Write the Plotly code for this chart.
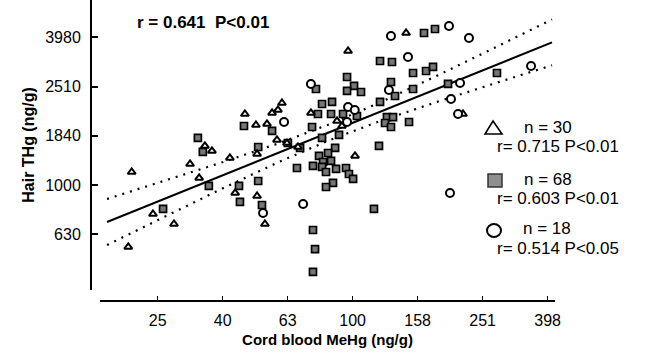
import plotly.graph_objects as go

# ---------------- data ----------------
tri_x = [46.6, 50.4, 54.5, 56.5, 58.9, 60.6, 36.9, 20.9, 31.6, 41.9, 50.8, 33.7, 43.5, 50.8, 53.7,
         24.3, 28.2, 20.4, 58.5, 62.8, 96.8, 146, 74.4, 89.5, 92.7, 218.6, 101.7, 35.1, 67.9]
tri_y = [1943, 1753, 1770, 1962, 2018, 2154, 1375, 1129, 1217, 1288, 1337, 1068, 928, 902, 694,
         762, 694, 560, 1524, 1481, 3505, 4148, 1962, 1820, 1737, 1943, 1312, 1441, 1427]

sq_x = [46.3, 56.5, 33.4, 34.6, 51.2, 67.4, 36.1, 44.7, 45.0, 51.2, 52.6, 26.1, 165.8, 179.2, 121.4,
        132.1, 153.4, 168.2, 176.7, 96.1, 131.2, 77.1, 101, 96.1, 106.1, 135, 153.4, 196.5, 80.5,
        86.4, 121.4, 78.2, 85.8, 93.4, 103.1, 127.5, 133.1, 125.8, 149.1, 131.2, 75, 80.5, 90.8,
        120.5, 88.3, 63.2, 68.9, 78.8, 84.0, 81.1, 75.5, 80.5, 85.8, 82.8, 88.9, 95.4, 97.4, 100.3,
        87.0, 82.8, 116.3, 75.5, 278, 75.5, 76.6]
sq_y = [1737, 1658, 1553, 1362, 1427, 1172, 991, 991, 853, 1038, 829, 799, 4148, 4306, 3192,
        3162, 2853, 2907, 3018, 2748, 2622, 2456, 2527, 2411, 2388, 2300, 2456, 2574, 2134,
        2175, 2175, 1943, 1943, 1943, 1907, 1889, 1889, 1786, 1803, 1721, 1721, 1553, 1597,
        1441, 1414, 1481, 1414, 1312, 1349, 1240, 1195, 1184, 1252, 1129, 1162, 1172, 1108, 1058,
        1019, 981, 799, 443, 2853, 656, 549]

cir_x = [61.5, 53.0, 131.2, 197.9, 228, 148, 74.4, 129.3, 214, 200.7, 96.8, 96.1, 211, 353.9,
         70.4, 199.3, 101.5]
cir_y = [1803, 769, 4033, 4429, 3959, 3314, 2574, 2433, 2598, 2237, 2075, 1803, 1943, 3046,
         837, 928, 2018]

fit_x = [17.55, 410.6]
fit_y = [707, 3799]
band_x = [17.55, 25.54, 39.06, 59.77, 85.20, 121.4, 185.7, 284.0, 410.6]
upper_y = [877, 1026, 1228, 1483, 1770, 2164, 2818, 3704, 4708]
lower_y = [570, 728, 957, 1246, 1524, 1819, 2197, 2630, 3066]

x_tick_vals = [25.12, 39.81, 63.10, 100.0, 158.5, 251.2, 398.1]
x_tick_text = ["25", "40", "63", "100", "158", "251", "398"]
y_tick_vals = [631, 1000, 1585, 2512, 3981]
y_tick_text = ["630", "1000", "1840", "2510", "3980"]

legend_n = ["n = 30", "n = 68", "n = 18"]
legend_r = ["r= 0.715 P<0.01", "r= 0.603 P<0.01", "r= 0.514 P<0.05"]
overall_text = "r = 0.641  P<0.01"

# ---------------- figure ----------------
W, H = 647, 353
ML, MR, MT, MB = 91, 92, 0, 52
PW, PH = W - ML - MR, H - MT - MB


def px_x(px):
    return (px - ML) / PW


def px_y(py):
    return (H - MB - py) / PH


FONT = "Liberation Sans, Arial, sans-serif"

fig = go.Figure()

fig.add_trace(go.Scatter(x=band_x, y=upper_y, mode="lines",
                         line=dict(color="black", width=2.2, dash="2px,6px"),
                         hoverinfo="skip", showlegend=False))
fig.add_trace(go.Scatter(x=band_x, y=lower_y, mode="lines",
                         line=dict(color="black", width=2.2, dash="2px,6px"),
                         hoverinfo="skip", showlegend=False))
fig.add_trace(go.Scatter(x=fit_x, y=fit_y, mode="lines",
                         line=dict(color="black", width=2),
                         hoverinfo="skip", showlegend=False))

fig.add_trace(go.Scatter(x=sq_x, y=sq_y, mode="markers",
                         marker=dict(symbol="square", size=7, color="#777777",
                                     line=dict(color="#000000", width=1.7)),
                         showlegend=False))
fig.add_trace(go.Scatter(x=tri_x, y=tri_y, mode="markers",
                         marker=dict(symbol="triangle-up", size=7, color="white",
                                     line=dict(color="black", width=2)),
                         showlegend=False))
fig.add_trace(go.Scatter(x=cir_x, y=cir_y, mode="markers",
                         marker=dict(symbol="circle", size=8, color="white",
                                     line=dict(color="black", width=2)),
                         showlegend=False))

annotations = [
    dict(text="<b>" + overall_text + "</b>", x=px_x(135), y=px_y(22), xref="paper", yref="paper",
         xanchor="left", yanchor="middle", showarrow=False, font=dict(family=FONT, size=17, color="black")),
]
n_pos = [(522, 127), (522, 180), (521, 228)]
r_pos = [(495, 146), (495, 198), (495, 248)]
for t, (px, py) in zip(legend_n, n_pos):
    annotations.append(dict(text=t, x=px_x(px), y=px_y(py), xref="paper", yref="paper",
                            xanchor="left", yanchor="middle", showarrow=False,
                            font=dict(family=FONT, size=17, color="black")))
for t, (px, py) in zip(legend_r, r_pos):
    annotations.append(dict(text=t, x=px_x(px), y=px_y(py), xref="paper", yref="paper",
                            xanchor="left", yanchor="middle", showarrow=False,
                            font=dict(family=FONT, size=17, color="black")))

shapes = [
    dict(type="path", xref="paper", yref="paper",
         path=f"M {px_x(493)} {px_y(121)} L {px_x(502)} {px_y(134)} L {px_x(485)} {px_y(134)} Z",
         line=dict(color="black", width=1.6), fillcolor="white"),
    dict(type="rect", xref="paper", yref="paper",
         x0=px_x(488), x1=px_x(502), y0=px_y(187), y1=px_y(174),
         line=dict(color="#333333", width=1.5), fillcolor="#8f8f8f"),
    dict(type="circle", xref="paper", yref="paper",
         x0=px_x(487), x1=px_x(501), y0=px_y(237), y1=px_y(224),
         line=dict(color="black", width=2), fillcolor="white"),
]

fig.update_layout(
    width=W, height=H,
    margin=dict(l=ML, r=MR, t=MT, b=MB, pad=0),
    paper_bgcolor="white", plot_bgcolor="white",
    font=dict(family=FONT, color="black"),
    showlegend=False,
    annotations=annotations,
    shapes=shapes,
    xaxis=dict(
        type="log", range=[1.2226, 2.6226],
        domain=[(100 - ML) / PW, 1.0], anchor="free", position=0,
        showline=True, linecolor="black", linewidth=1.6,
        ticks="inside", ticklen=4, tickwidth=1.3, tickcolor="black",
        tickvals=x_tick_vals, ticktext=x_tick_text,
        tickfont=dict(family=FONT, size=16, color="black"),
        ticklabelstandoff=5,
        showgrid=False, zeroline=False,
        title=dict(text="<b>Cord blood MeHg (ng/g)</b>", standoff=5,
                   font=dict(family=FONT, size=15, color="black")),
    ),
    yaxis=dict(
        type="log", range=[2.573, 3.752],
        domain=[(H - MB - 290) / PH, 1.0], anchor="free", position=0,
        showline=True, linecolor="black", linewidth=2,
        ticks="inside", ticklen=6, tickwidth=1.5, tickcolor="black",
        tickvals=y_tick_vals, ticktext=y_tick_text,
        tickfont=dict(family=FONT, size=16, color="black"),
        ticklabelstandoff=6,
        showgrid=False, zeroline=False,
        title=dict(text="<b>Hair THg (ng/g)</b>", standoff=6,
                   font=dict(family=FONT, size=16, color="black")),
    ),
)

fig.write_html("out.html")
